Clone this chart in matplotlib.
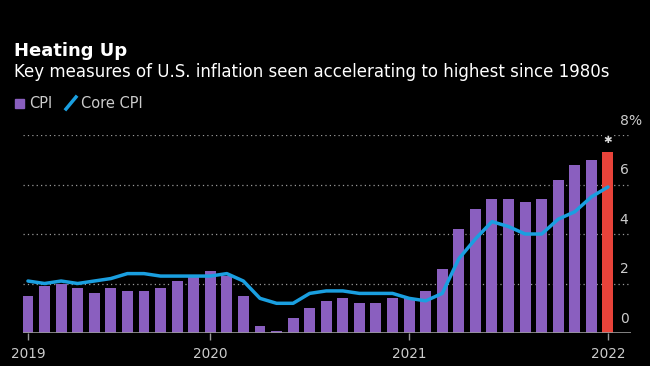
import numpy as np
import matplotlib.pyplot as plt
from matplotlib.transforms import blended_transform_factory

# monthly YoY %, Feb 2019 - Jan 2022 (last value = estimate)
cpi = [1.5, 1.9, 2.0, 1.8, 1.6, 1.8, 1.7, 1.7, 1.8, 2.1, 2.3,
       2.5, 2.3, 1.5, 0.3, 0.1, 0.6, 1.0, 1.3, 1.4, 1.2, 1.2, 1.4,
       1.4, 1.7, 2.6, 4.2, 5.0, 5.4, 5.4, 5.3, 5.4, 6.2, 6.8, 7.0,
       7.3]
core = [2.1, 2.0, 2.1, 2.0, 2.1, 2.2, 2.4, 2.4, 2.3, 2.3, 2.3,
        2.3, 2.4, 2.1, 1.4, 1.2, 1.2, 1.6, 1.7, 1.7, 1.6, 1.6, 1.6,
        1.4, 1.3, 1.6, 3.0, 3.8, 4.5, 4.3, 4.0, 4.0, 4.6, 4.9, 5.5,
        5.9]
year_idx = [0, 11, 23, 35]
year_labels = ['2019', '2020', '2021', '2022']
yticks = [0, 2, 4, 6, 8]

purple = '#8a5fbf'
blue = '#1a9fe0'
red = '#e8433a'
grey = '#cccccc'

x = np.arange(len(cpi))
colors = [purple] * (len(cpi) - 1) + [red]

fig = plt.figure(figsize=(6.5, 3.66), dpi=100, facecolor='black')
ax = fig.add_axes([23 / 650, 33 / 366, 608 / 650, 198 / 366])
ax.set_facecolor('black')

for v in yticks[1:]:
    ax.axhline(v, xmax=0.995, color='#9a9a9a', lw=0.9, ls=(0, (1, 2.5)), zorder=1)
ax.bar(x, cpi, width=0.66, color=colors, zorder=2)
ax.plot(x, core, color=blue, lw=2.5, solid_capstyle='round', solid_joinstyle='round', zorder=3)
ax.axhline(0, color='#999999', lw=1.2, zorder=4)

ax.text(x[-1], 8.0 - 0.22, '\u2731', color='#dddddd', fontsize=7.5, ha='center', va='center',
        bbox=dict(facecolor='black', edgecolor='none', pad=1.5), zorder=5)

ax.set_xlim(-0.3, 36.39)
ax.set_ylim(0, 8)
for s in ax.spines.values():
    s.set_visible(False)
ax.set_yticks([])
ax.set_xticks(year_idx)
ax.set_xticklabels(year_labels, color=grey, fontsize=9.8)
ax.tick_params(axis='x', length=5, width=1, color='#999999', pad=5)

tr = blended_transform_factory(fig.transFigure, ax.transData)
for v in yticks:
    ax.text(628.5 / 650, v + 0.58, '%d' % v, color=grey, fontsize=10, ha='right', va='center',
            transform=tr)
ax.text(628.5 / 650, 8.58, '%', color=grey, fontsize=10, ha='left', va='center', transform=tr)

fig.text(14 / 650, 1 - 51 / 366, 'Heating Up', color='white', fontsize=13,
         fontweight='bold', va='center')
fig.text(14 / 650, 1 - 72 / 366,
         'Key measures of U.S. inflation seen accelerating to highest since 1980s',
         color='white', fontsize=12, va='center')

# legend
fig.patches.append(plt.Rectangle((15 / 650, 1 - 108 / 366), 8.5 / 650, 9 / 366,
                                 transform=fig.transFigure, color=purple))
fig.text(29 / 650, 1 - 103 / 366, 'CPI', color=grey, fontsize=10.5, va='center')
fig.lines.append(plt.Line2D([66 / 650, 76 / 650], [1 - 109 / 366, 1 - 97 / 366],
                            transform=fig.transFigure, color=blue, lw=2.5))
fig.text(81 / 650, 1 - 103 / 366, 'Core CPI', color=grey, fontsize=10.5, va='center')

fig.savefig('out.png', dpi=100, facecolor='black')
